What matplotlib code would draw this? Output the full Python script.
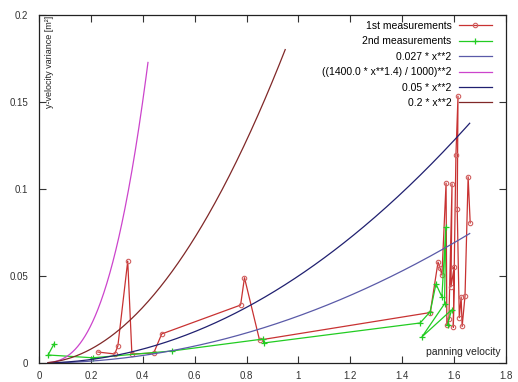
import numpy as np
import matplotlib
matplotlib.use("Agg")
import matplotlib.pyplot as plt

plt.rcParams['font.family'] = ['Liberation Sans', 'DejaVu Sans']
plt.rcParams['font.size'] = 7.5

first_x = [0.227, 0.292, 0.304, 0.342, 0.358, 0.442, 0.473, 0.777, 0.792, 0.850,
           1.508, 1.538, 1.546, 1.553, 1.569, 1.572, 1.580, 1.592, 1.588, 1.600,
           1.597, 1.607, 1.615, 1.612, 1.620, 1.627, 1.631, 1.642, 1.654, 1.662]
first_y = [0.0063, 0.0052, 0.0098, 0.0586, 0.0052, 0.0057, 0.0167, 0.0333, 0.0490, 0.0132,
           0.0290, 0.0580, 0.0545, 0.0505, 0.1034, 0.0220, 0.0255, 0.1030, 0.0437, 0.0550,
           0.0205, 0.1195, 0.1534, 0.0885, 0.0260, 0.0380, 0.0210, 0.0385, 0.1070, 0.0805]

second_x = [0.058, 0.035, 0.208, 0.512, 0.865, 0.866, 1.469, 1.508, 1.530, 1.553,
            1.568, 1.563, 1.476, 1.590, 1.575]
second_y = [0.0110, 0.0046, 0.0030, 0.0069, 0.0138, 0.0115, 0.0230, 0.0295, 0.0454, 0.0380,
            0.0780, 0.0340, 0.0150, 0.0305, 0.0220]

xticks = [0, 0.2, 0.4, 0.6, 0.8, 1, 1.2, 1.4, 1.6, 1.8]
yticks = [0, 0.05, 0.1, 0.15, 0.2]

fig = plt.figure(figsize=(5.18, 3.82), dpi=100)
ax = fig.add_axes([39 / 518, 19 / 382, 467 / 518, 348 / 382])

ax.plot(first_x, first_y, color='#c83232', lw=0.9, marker='o', ms=3.2,
        mfc='none', mec='#d06060', mew=0.8, label='1st measurements')
ax.plot(second_x, second_y, color='#22cc22', lw=0.9, marker='+', ms=5,
        mew=0.9, label='2nd measurements')

xa = np.linspace(0.035, 1.66, 300)
ax.plot(xa, 0.027 * xa**2, color='#5a5aa8', lw=0.9, label='0.027 * x**2')
xp = np.linspace(0.035, 0.42, 200)
ax.plot(xp, ((1400.0 * xp**1.4) / 1000)**2, color='#cc44cc', lw=0.9,
        label='((1400.0 * x**1.4) / 1000)**2')
ax.plot(xa, 0.05 * xa**2, color='#202070', lw=0.9, label='0.05 * x**2')
xr = np.linspace(0.035, 0.949, 200)
ax.plot(xr, 0.2 * xr**2, color='#802828', lw=0.9, label='0.2 * x**2')

ax.set_xlim(0, 1.8)
ax.set_ylim(0, 0.2)
ax.set_xticks(xticks)
ax.set_yticks(yticks)
ax.set_xticklabels(['%g' % v for v in xticks])
ax.set_yticklabels(['%g' % v for v in yticks])
ax.tick_params(direction='in', length=5, width=0.8, top=True, right=True,
               labelsize=7, colors='#333333')
ax.tick_params(axis='x', pad=6)
ax.tick_params(axis='y', pad=8)
for s in ax.spines.values():
    s.set_linewidth(0.9)
    s.set_color('#222222')

ax.legend(loc='upper right', bbox_to_anchor=(492 / 518, 1 - 21 / 382),
          bbox_transform=fig.transFigure, frameon=False, markerfirst=False,
          handlelength=3.2, handletextpad=0.7, labelspacing=0.52,
          borderpad=0, borderaxespad=0, fontsize=7.5)

fig.text(49 / 518, 1 - 16 / 382, 'y-velocity variance [m²]', rotation=90,
         ha='center', va='top', fontsize=6.5, color='#222222')
fig.text(501 / 518, 1 - 352 / 382, 'panning velocity', ha='right', va='center',
         fontsize=7.5, color='#222222')

fig.savefig('out.png', dpi=100)
